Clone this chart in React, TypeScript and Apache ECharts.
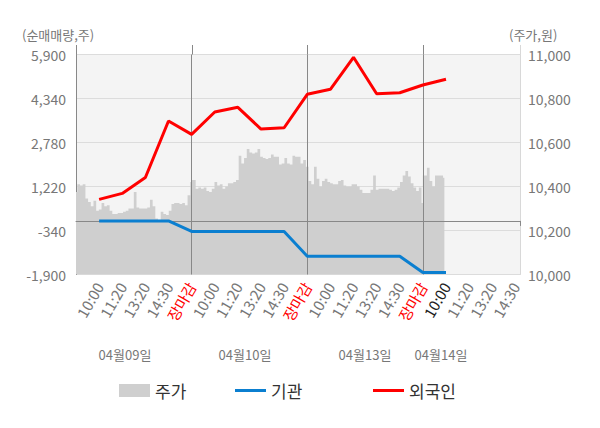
import { useEffect, useRef } from 'react';
import * as echarts from 'echarts';

// ---------- data ----------
const slotLabels = ['', '10:00', '11:20', '13:20', '14:30', '장마감', '10:00', '11:20', '13:20', '14:30', '장마감', '10:00', '11:20', '13:20', '14:30', '장마감', '10:00', '11:20', '13:20', '14:30'];
const currentSlot = 16;
const dayLabels = ['04월09일', '04월10일', '04월13일', '04월14일'];

// 순매매량 (left axis), one value per slot, null where no data
const institutionNet = [null, 0, 0, 0, 0, -374, -374, -374, -374, -374, -1250, -1250, -1250, -1250, -1250, -1830, -1830];
const foreignNet = [null, 762, 975, 1540, 3541, 3069, 3860, 4027, 3257, 3303, 4488, 4666, 5801, 4510, 4545, 4818, 5021];

// 주가 (right axis), intraday samples per day
const priceDay1 = [10375, 10410, 10405, 10410, 10345, 10330, 10310, 10335, 10290, 10295, 10325, 10310, 10315, 10290, 10275, 10275, 10280, 10280, 10285, 10290, 10300, 10300, 10375, 10305, 10300, 10300, 10300, 10305, 10340, 10310, 10255, 10245, 10285, 10275, 10270, 10290, 10320, 10325, 10325, 10320, 10325, 10315, 10360, 10420];
const priceDay2 = [10430, 10430, 10390, 10395, 10390, 10395, 10380, 10375, 10390, 10420, 10405, 10410, 10390, 10400, 10415, 10415, 10420, 10430, 10540, 10505, 10530, 10570, 10555, 10550, 10555, 10570, 10535, 10530, 10525, 10530, 10545, 10535, 10535, 10500, 10505, 10530, 10505, 10500, 10540, 10535, 10535, 10505, 10520, 10490];
const priceDay3 = [10490, 10425, 10410, 10490, 10435, 10400, 10425, 10435, 10420, 10415, 10410, 10410, 10425, 10430, 10405, 10400, 10400, 10410, 10410, 10400, 10385, 10370, 10370, 10370, 10385, 10450, 10385, 10390, 10390, 10390, 10390, 10385, 10380, 10385, 10395, 10420, 10450, 10470, 10445, 10415, 10395, 10380, 10395, 10325];
const priceDay4 = [10450, 10450, 10485, 10425, 10400, 10450, 10450, 10450, 10440];

const leftMin = -1900;
const leftMax = 5900;
const leftStep = 1560;
const rightMin = 10000;
const rightMax = 11000;
const rightStep = 200;

// ---------- layout / style ----------
const FONT = '"Noto Sans CJK KR", "Noto Sans", sans-serif';
const SLOTS_PER_DAY = 5;
const SAMPLES_PER_DAY_STEPS = 43;
const X_MAX = 19.2;
const GRID = { left: 76, right: 80, top: 54.5, bottom: 153.5 };
const STUB = 9.5;
const dayLabelX = [125, 245, 365, 441];
const GRAY = '#777777';
const BLUE = '#0b7fd0';
const RED = '#ff0000';
const AREA = '#cfcfcf';

export default function App() {
  const ref = useRef<HTMLDivElement>(null);

  useEffect(() => {
    document.body.style.margin = '0';
    if (!ref.current) return;
    const chart = echarts.init(ref.current, undefined, { renderer: 'svg' });

    const priceData = [priceDay1, priceDay2, priceDay3, priceDay4].flatMap((day, d) =>
      day.map((p, i) => [d * SLOTS_PER_DAY + (i * SLOTS_PER_DAY) / SAMPLES_PER_DAY_STEPS, p])
    );
    const toPairs = (arr: (number | null)[]) =>
      arr.map((v, i) => (v === null ? null : [i, v])).filter((p) => p !== null);
    const separators = slotLabels.map((l, i) => (l === '장마감' ? i : -1)).filter((i) => i > 0);

    const legendCommon = {
      itemWidth: 31,
      selectedMode: false,
      top: 377,
      textStyle: { fontSize: 17, color: '#333', fontFamily: FONT },
    };

    chart.setOption({
      animation: false,
      textStyle: { fontFamily: FONT },
      grid: {
        ...GRID,
        show: true,
        backgroundColor: '#f4f4f4',
        borderWidth: 0,
      },
      legend: [
        { ...legendCommon, data: [{ name: '주가', icon: 'rect' }], left: 114, itemHeight: 13 },
        { ...legendCommon, data: [{ name: '기관', icon: 'rect' }], left: 230, itemHeight: 3 },
        { ...legendCommon, data: [{ name: '외국인', icon: 'rect' }], left: 368, itemHeight: 3 },
      ],
      xAxis: {
        type: 'value',
        min: 0,
        max: X_MAX,
        interval: 1,
        axisLine: { show: true, lineStyle: { color: '#888', width: 1 } },
        axisTick: {
          show: true,
          customValues: [0, ...separators, X_MAX],
          length: 5,
          lineStyle: { color: '#888' },
        },
        splitLine: { show: false },
        axisLabel: {
          rotate: 60,
          margin: 9,
          fontSize: 15,
          color: GRAY,
          fontFamily: FONT,
          formatter: (v: number) => {
            const l = slotLabels[v];
            if (!l) return '';
            if (l === '장마감') return `{r|${l}}`;
            if (v === currentSlot) return `{c|${l}}`;
            return l;
          },
          rich: {
            r: { color: RED, fontSize: 15, fontFamily: FONT },
            c: { color: '#222', fontSize: 15, fontFamily: FONT },
          },
        },
      },
      yAxis: [
        {
          type: 'value',
          min: leftMin,
          max: leftMax,
          interval: leftStep,
          position: 'left',
          axisLine: { show: true, lineStyle: { color: '#888' } },
          axisTick: { show: false },
          axisLabel: { color: GRAY, fontSize: 14, margin: 10, fontFamily: FONT },
          splitLine: { show: true, lineStyle: { color: '#dcdcdc', width: 1 } },
        },
        {
          type: 'value',
          min: rightMin,
          max: rightMax,
          interval: rightStep,
          position: 'right',
          axisLine: { show: true, lineStyle: { color: '#d8d8d8' } },
          axisTick: { show: false },
          axisLabel: { color: GRAY, fontSize: 14, margin: 8, fontFamily: FONT },
          splitLine: { show: false },
        },
      ],
      series: [
        {
          name: '주가',
          type: 'line',
          yAxisIndex: 1,
          data: priceData,
          symbol: 'none',
          step: 'middle',
          lineStyle: { width: 0, color: AREA },
          itemStyle: { color: AREA },
          areaStyle: { color: AREA, opacity: 1, origin: 'start' },
          z: 1,
          silent: true,
        },
        {
          type: 'line',
          yAxisIndex: 0,
          data: [],
          silent: true,
          z: 2,
          markLine: {
            silent: true,
            symbol: ['none', 'none'],
            label: { show: false },
            lineStyle: { color: '#888', width: 1, type: 'solid' },
            data: [{ yAxis: 0 }, ...separators.map((x) => ({ xAxis: x }))],
          },
        },
        {
          name: '기관',
          type: 'line',
          yAxisIndex: 0,
          data: toPairs(institutionNet),
          symbol: 'none',
          lineStyle: { color: BLUE, width: 3 },
          itemStyle: { color: BLUE },
          z: 10,
        },
        {
          name: '외국인',
          type: 'line',
          yAxisIndex: 0,
          data: toPairs(foreignNet),
          symbol: 'none',
          lineStyle: { color: RED, width: 3 },
          itemStyle: { color: RED },
          z: 10,
        },
      ],
    });

    // short stubs of the vertical lines above the plot, placed through the x scale
    const stubValues = [0, ...separators, X_MAX];
    const stubs = stubValues.map((v) => {
      const px = chart.convertToPixel({ xAxisIndex: 0 }, v) as number;
      const x = Math.round(px) + 0.5;
      return {
        type: 'line',
        shape: { x1: x, y1: GRID.top - STUB, x2: x, y2: GRID.top },
        style: { stroke: v === X_MAX ? '#d8d8d8' : '#888', lineWidth: 1 },
        silent: true,
      };
    });

    chart.setOption({
      graphic: [
        {
          type: 'text',
          x: 22,
          y: 34,
          style: { text: '(순매매량,주)', fill: GRAY, fontSize: 13, fontFamily: FONT, verticalAlign: 'middle' },
        },
        {
          type: 'text',
          x: 509,
          y: 34,
          style: { text: '(주가,원)', fill: GRAY, fontSize: 13, fontFamily: FONT, verticalAlign: 'middle' },
        },
        ...dayLabels.map((t, i) => ({
          type: 'text',
          x: dayLabelX[i],
          y: 354,
          style: { text: t, fill: GRAY, fontSize: 13, fontFamily: FONT, align: 'center', verticalAlign: 'middle' },
        })),
        ...stubs,
      ],
    });

    return () => chart.dispose();
  }, []);

  return <div ref={ref} style={{ width: 600, height: 428 }} />;
}
